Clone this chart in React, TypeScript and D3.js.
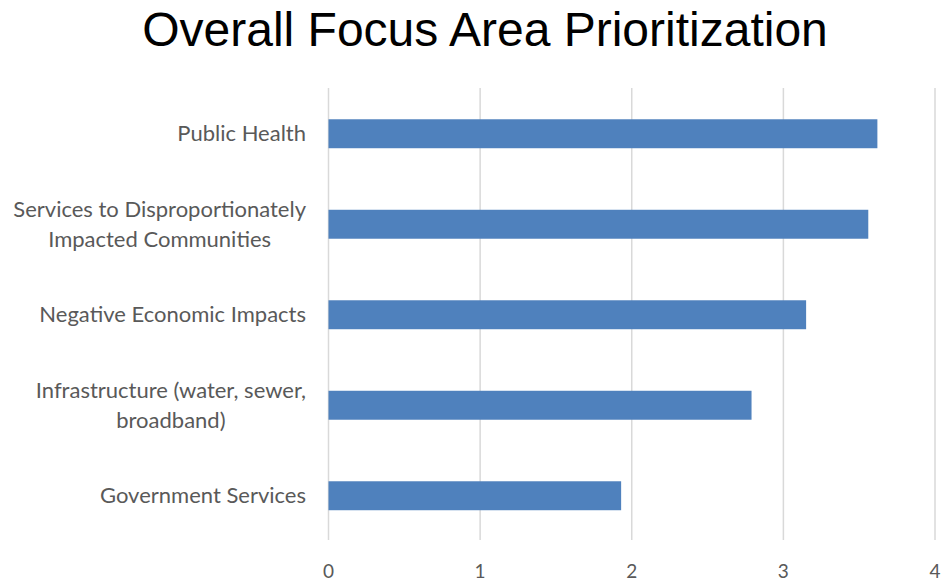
import React, { useEffect, useRef } from "react";
import * as d3 from "d3";

const categories = [
  "Public Health",
  "Services to Disproportionately|Impacted Communities",
  "Negative Economic Impacts",
  "Infrastructure (water, sewer,|broadband)",
  "Government Services",
];
const values = [3.62, 3.56, 3.15, 2.79, 1.93];
const xTicks = [0, 1, 2, 3, 4];
const title = "Overall Focus Area Prioritization";

const W = 943;
const H = 581;

export default function App() {
  const ref = useRef<SVGSVGElement>(null);

  useEffect(() => {
    const svg = d3.select(ref.current);
    svg.selectAll("*").remove();

    const x = d3.scaleLinear().domain([0, 4]).range([328.5, 935]);
    const y = d3
      .scaleBand<string>()
      .domain(categories)
      .range([88.5, 541])
      .paddingInner(0.68)
      .paddingOuter(0.34);

    svg
      .append("text")
      .attr("x", 485)
      .attr("y", 46)
      .attr("text-anchor", "middle")
      .attr("font-family", "Liberation Sans, Arial, sans-serif")
      .attr("font-size", 48)
      .attr("fill", "#000")
      .text(title);

    // gridlines
    svg
      .append("g")
      .selectAll("line")
      .data(xTicks)
      .join("line")
      .attr("x1", (d) => x(d))
      .attr("x2", (d) => x(d))
      .attr("y1", 88)
      .attr("y2", 540)
      .attr("stroke", "#d9d9d9")
      .attr("stroke-width", 1.5);

    // bars
    svg
      .append("g")
      .selectAll("rect")
      .data(categories)
      .join("rect")
      .attr("x", x(0))
      .attr("y", (d) => y(d)!)
      .attr("width", (d, i) => x(values[i]) - x(0))
      .attr("height", y.bandwidth())
      .attr("fill", "#4f81bd");

    // tick labels
    svg
      .append("g")
      .selectAll("text")
      .data(xTicks)
      .join("text")
      .attr("x", (d) => x(d))
      .attr("y", 578)
      .attr("text-anchor", "middle")
      .attr("font-family", "Lato, sans-serif")
      .attr("font-size", 19)
      .attr("fill", "#595959")
      .text((d) => String(d));

    // category labels
    const rightEdge = 306;
    const lineH = 30;
    const gl = svg.append("g");
    categories.forEach((c) => {
      const lines = c.split("|");
      const cy = y(c)! + y.bandwidth() / 2;
      const g = gl.append("g");
      const texts = lines.map((ln, i) =>
        g
          .append("text")
          .attr("font-family", "Lato, sans-serif")
          .attr("font-size", 22)
          .attr("fill", "#595959")
          .attr("text-anchor", "middle")
          .attr("y", cy + 7.5 + (i - (lines.length - 1) / 2) * lineH)
          .text(ln)
      );
      const widths = texts.map((t) => (t.node() as SVGTextElement).getComputedTextLength());
      const maxW = Math.max(...widths);
      const center = rightEdge - maxW / 2;
      texts.forEach((t) => t.attr("x", center));
    });
  }, []);

  return (
    <svg
      ref={ref}
      width={W}
      height={H}
      style={{ position: "absolute", left: 0, top: 0, background: "#fff" }}
    />
  );
}
